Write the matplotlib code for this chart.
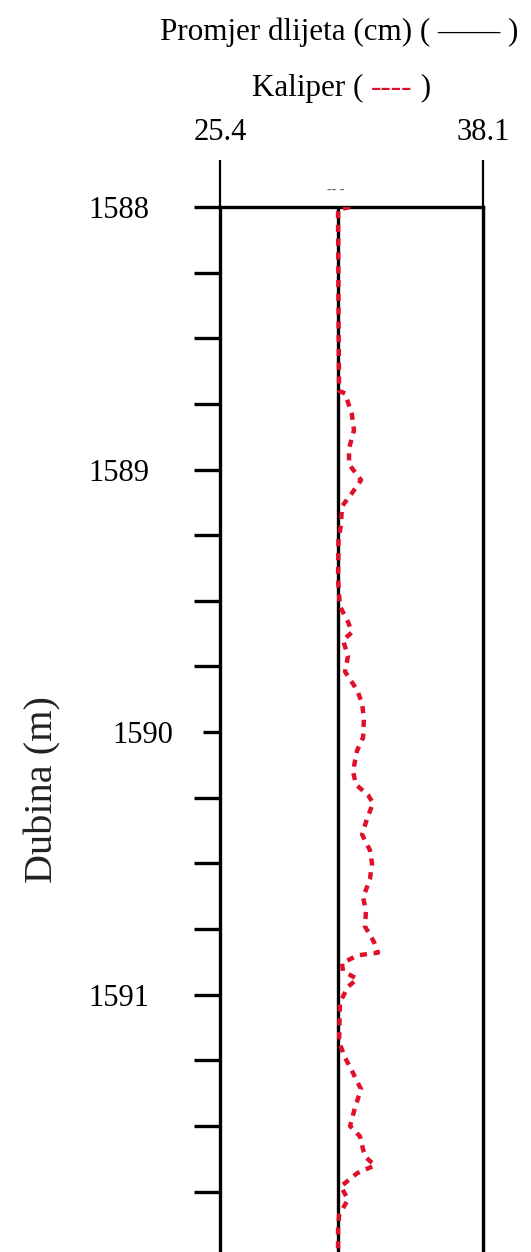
import matplotlib.pyplot as plt
import matplotlib.transforms as mtransforms
from matplotlib.ticker import MultipleLocator, FixedLocator

plt.rcParams['font.family'] = ['Liberation Serif', 'DejaVu Serif']

# promjer dlijeta (cm) i kaliper po dubini
promjer_dlijeta = 31.1
x_granice = [25.4, 38.1]
dubina_granice = [1588, 1591.98]
dubina_oznake = [1588, 1589, 1590, 1591]

dubina = [1588.00, 1588.01, 1588.35, 1588.70, 1588.71, 1588.79, 1588.85, 1588.92,
          1588.98, 1589.04, 1589.09, 1589.14, 1589.21, 1589.27, 1589.42, 1589.52,
          1589.58, 1589.62, 1589.65, 1589.71, 1589.77, 1589.84, 1589.89, 1589.95,
          1590.02, 1590.07, 1590.15, 1590.20, 1590.24, 1590.27, 1590.33, 1590.39,
          1590.45, 1590.50, 1590.56, 1590.63, 1590.68, 1590.74, 1590.80, 1590.84,
          1590.85, 1590.88, 1590.91, 1590.94, 1590.97, 1591.03, 1591.18, 1591.24,
          1591.29, 1591.36, 1591.43, 1591.50, 1591.54, 1591.59, 1591.62, 1591.65,
          1591.68, 1591.73, 1591.78, 1591.84, 1591.90, 1591.99]
kaliper = [31.68, 31.10, 31.12, 31.15, 31.44, 31.77, 31.87, 31.63,
           31.63, 32.21, 31.77, 31.29, 31.24, 31.12, 31.10, 31.19,
           31.58, 31.77, 31.34, 31.58, 31.44, 32.02, 32.26, 32.35,
           32.31, 32.02, 31.82, 31.97, 32.55, 32.79, 32.50, 32.26,
           32.64, 32.74, 32.64, 32.31, 32.45, 32.40, 32.84, 33.03,
           32.06, 31.29, 31.34, 32.02, 31.58, 31.19, 31.15, 31.44,
           31.77, 32.21, 31.92, 31.68, 32.16, 32.31, 32.45, 32.88,
           32.02, 31.24, 31.58, 31.15, 31.10, 31.10]

fig = plt.figure(figsize=[5.31, 12.52], dpi=100)
ax = fig.add_axes([220 / 531, 0, 263 / 531, 1 - 207 / 1252])

ax.axvline(promjer_dlijeta, color='black', lw=2.4, zorder=2)
ax.plot(kaliper, dubina, color='#e0102a', lw=3.2, dashes=(1.6, 1.5), zorder=3)
# zuta linija uz desni rub
ax.axvline(x_granice[1] + 0.05, color='#d9b800', lw=1.0, zorder=1, clip_on=False)

ax.set_xlim(x_granice)
ax.set_ylim(dubina_granice[1], dubina_granice[0])

ax.xaxis.set_ticks_position('top')
ax.xaxis.set_major_locator(FixedLocator(x_granice))
ax.set_xticklabels([str(v) for v in x_granice])
ax.tick_params(axis='x', direction='out', length=34, width=1.6, pad=9,
               labelsize=22)

ax.yaxis.set_major_locator(FixedLocator(dubina_oznake))
ax.yaxis.set_minor_locator(MultipleLocator(0.25))
ax.set_yticklabels([str(v) for v in dubina_oznake])
ax.tick_params(axis='y', which='both', direction='out', length=19, width=2.4,
               pad=32, labelsize=22)

# oznaka 1590 je u originalu pomaknuta udesno, a crtica je kraca
tick_1590 = ax.yaxis.get_major_ticks()[2]
tick_1590.tick1line.set_markersize(12)
pomak = mtransforms.ScaledTranslation(24 / 100, 0, fig.dpi_scale_trans)
tick_1590.label1.set_transform(tick_1590.label1.get_transform() + pomak)

for s in ['left', 'top', 'right']:
    ax.spines[s].set_linewidth(2.4)
ax.spines['bottom'].set_visible(False)

ax.text(31.0, 1587.96, '-- -', color='#666666', fontsize=10,
        ha='center', va='bottom')

fig.text(43 / 531, 1 - 790 / 1252, 'Dubina (m)', rotation=90, fontsize=29,
         ha='center', va='center', color='#222222')

fig.text(339 / 531, 1 - 32 / 1252, 'Promjer dlijeta (cm) ( \u2014\u2014 )',
         fontsize=22.4, ha='center', va='center')
t1 = fig.text(252 / 531, 1 - 88 / 1252, 'Kaliper ( ', fontsize=22.4,
              ha='left', va='center')
t2 = ax.annotate('----', xy=(1, 0), xycoords=t1, fontsize=22.4, color='#e0102a',
                 ha='left', va='bottom')
ax.annotate(' )', xy=(1, 0), xycoords=t2, fontsize=22.4, ha='left', va='bottom')

plt.savefig('out.png', dpi=100)
plt.close()
